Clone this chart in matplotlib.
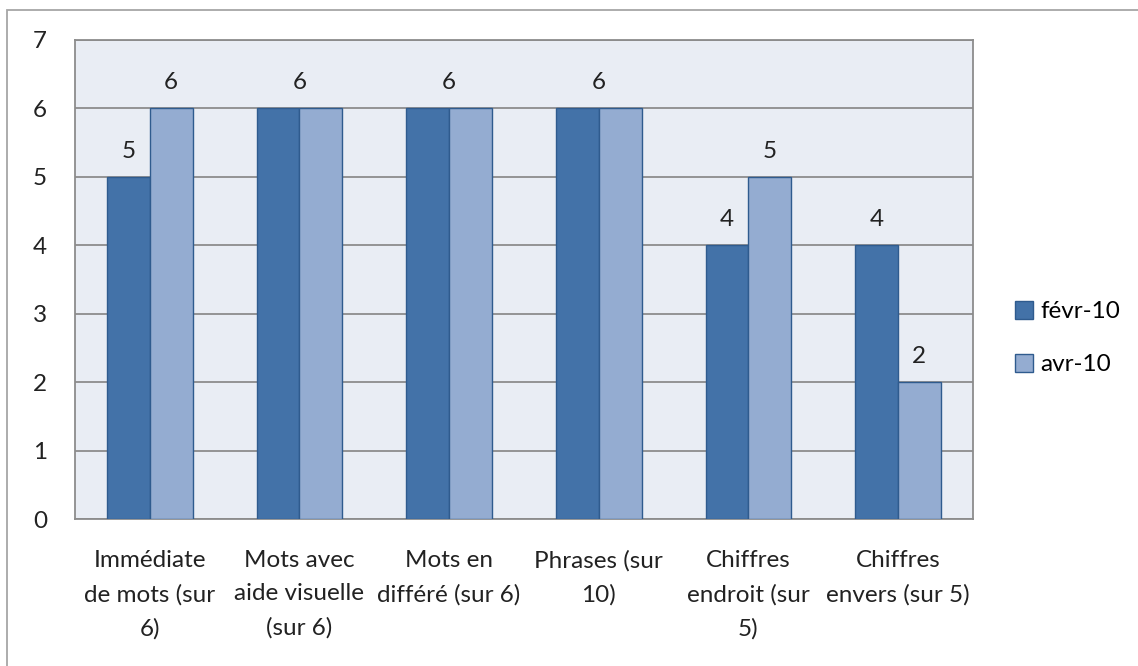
import matplotlib.pyplot as plt
import numpy as np
from matplotlib.patches import Rectangle

categories = ["Immédiate\nde mots (sur\n6)", "Mots avec\naide visuelle\n(sur 6)",
              "Mots en\ndifféré (sur 6)", "Phrases (sur\n10)",
              "Chiffres\nendroit (sur\n5)", "Chiffres\nenvers (sur 5)"]
fevr = [5, 6, 6, 6, 4, 4]
avr = [6, 6, 6, 6, 5, 2]
series_names = ["févr-10", "avr-10"]

plt.rcParams['font.family'] = ['Lato', 'DejaVu Sans']
FS = 17.5

fig = plt.figure(figsize=(11.38, 6.66), dpi=100)
ax = fig.add_axes([0.0659, 0.2207, 0.789, 0.7193])

# outer chart border
fig.patches.append(Rectangle((7 / 1138, -0.1), 1.2, 1 - 10 / 666 + 0.1,
                             transform=fig.transFigure, fill=False,
                             edgecolor='#A6A6A6', linewidth=1.3))

x = np.arange(len(categories))
w = 1 / 3.5
ax.set_facecolor('#E9EDF4')
ax.bar(x - w / 2, fevr, w, color='#4372A8', edgecolor='#2F5B8E', linewidth=1,
       label=series_names[0], zorder=3)
ax.bar(x + w / 2, avr, w, color='#94ACD1', edgecolor='#2F5B8E', linewidth=1,
       label=series_names[1], zorder=3)

txt = dict(ha='center', va='bottom', fontsize=FS, color='#222222')
for i in range(len(categories)):
    if fevr[i] == avr[i]:
        ax.text(x[i], fevr[i] + 0.22, str(fevr[i]), **txt)
    else:
        ax.text(x[i] - w / 2, fevr[i] + 0.22, str(fevr[i]), **txt)
        ax.text(x[i] + w / 2, avr[i] + 0.22, str(avr[i]), **txt)

ax.set_xlim(-0.5, len(categories) - 0.5)
ax.set_ylim(0, 7)
ax.set_yticks(range(0, 8))
ax.yaxis.grid(True, color='#8C8C8C', linewidth=1.3, zorder=0)
ax.set_axisbelow(True)
ax.set_xticks(x)
ax.set_xticklabels(categories, fontsize=FS, linespacing=1.75, color='#222222')
ax.tick_params(axis='y', labelsize=FS, length=0, pad=20, labelcolor='#222222')
ax.tick_params(axis='x', length=0, pad=22)
for s in ax.spines.values():
    s.set_color('#8C8C8C')
    s.set_linewidth(1.3)

ax.legend(loc='center left', bbox_to_anchor=(1.022, 0.378), frameon=False,
          fontsize=FS, handlelength=0.75, handleheight=0.75, handletextpad=0.3,
          labelspacing=1.3)

fig.savefig('out.png', dpi=100)
